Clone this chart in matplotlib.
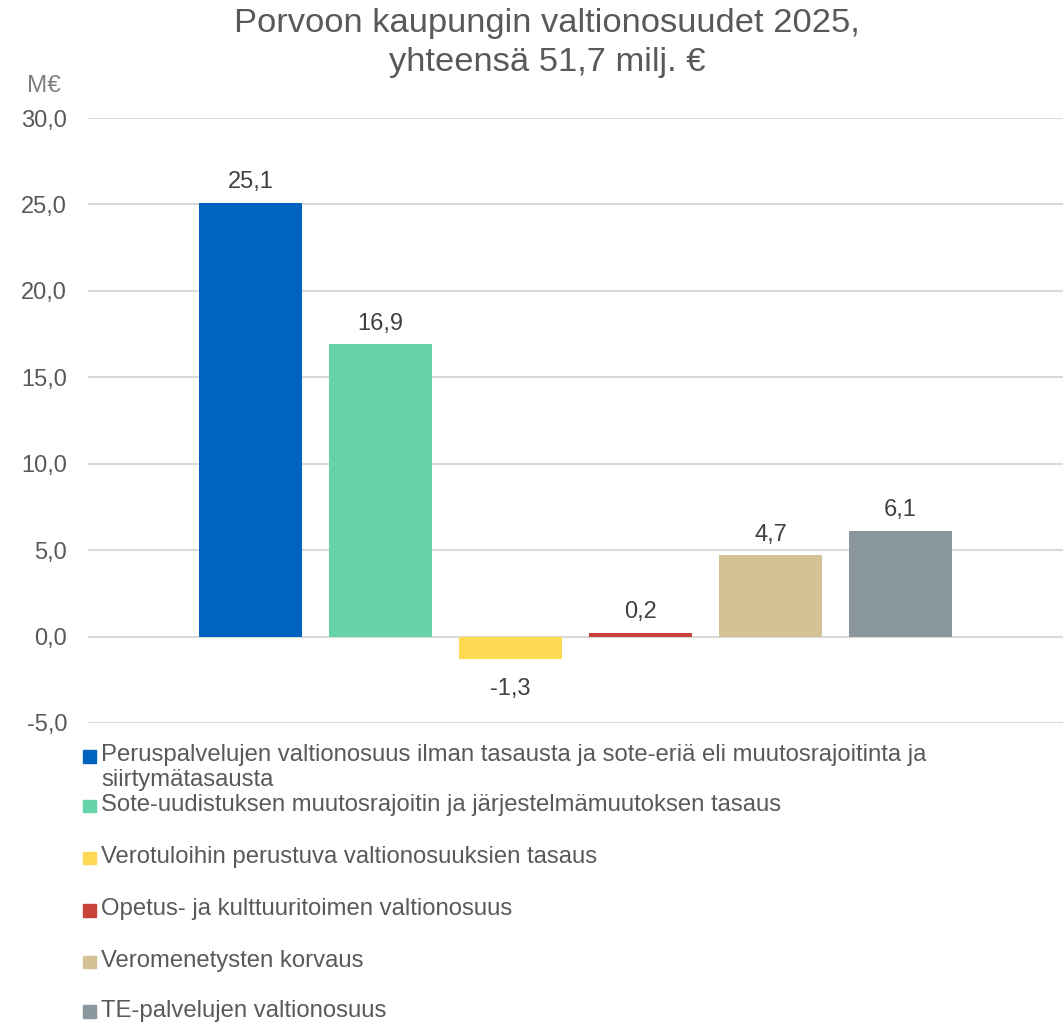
import matplotlib.pyplot as plt
from matplotlib.patches import Rectangle

plt.rcParams['font.family'] = ['Liberation Sans', 'DejaVu Sans']

# Data
sarjat = [
    "Peruspalvelujen valtionosuus ilman tasausta ja sote-eriä eli muutosrajoitinta ja\nsiirtymätasausta",
    "Sote-uudistuksen muutosrajoitin ja järjestelmämuutoksen tasaus",
    "Verotuloihin perustuva valtionosuuksien tasaus",
    "Opetus- ja kulttuuritoimen valtionosuus",
    "Veromenetysten korvaus",
    "TE-palvelujen valtionosuus",
]
arvot = [25.1, 16.9, -1.3, 0.2, 4.7, 6.1]
varit = ['#0064BE', '#66D4A8', '#FFD952', '#C8423A', '#D4C196', '#8B979F']
y_ticks = [-5, 0, 5, 10, 15, 20, 25, 30]

W, H = 1063, 1025
fig = plt.figure(figsize=(W / 100, H / 100), dpi=100)
ax = fig.add_axes([88 / W, 1 - 723 / H, 1 - 88 / W, (723 - 118) / H])

x = list(range(len(arvot)))
ax.bar(x, arvot, width=0.79, color=varit, zorder=3)

for xi, v in zip(x, arvot):
    txt = f"{v:.1f}".replace('.', ',')
    if v >= 0:
        ax.annotate(txt, (xi, v), xytext=(0, 7), textcoords='offset points',
                    ha='center', va='bottom', fontsize=17, color='#404040')
    else:
        ax.annotate(txt, (xi, v), xytext=(0, -14), textcoords='offset points',
                    ha='center', va='top', fontsize=17, color='#404040')

ax.set_xlim(-1.25, 6.25)
ax.set_ylim(-5, 30)
ax.set_yticks(y_ticks)
ax.set_yticklabels([f"{t:.1f}".replace('.', ',') for t in y_ticks])
ax.tick_params(axis='y', length=0, pad=15, labelsize=17, labelcolor='#595959')
ax.set_xticks([])
ax.grid(axis='y', color='#D9D9D9', linewidth=1.5, zorder=0)
for s in ax.spines.values():
    s.set_visible(False)

fig.text(547 / W, 1 - 43 / H, "Porvoon kaupungin valtionosuudet 2025,\nyhteensä 51,7 milj. €",
         ha='center', va='center', fontsize=24.8, color='#595959', linespacing=1.32)
fig.text(44 / W, 1 - 86 / H, "M€", ha='center', va='center', fontsize=17.5, color='#7F7F7F')

# Legend drawn by hand
rivit = [756.5, 806, 858, 910.5, 962, 1011.5]
for nimi, vari, yc in zip(sarjat, varit, rivit):
    fig.patches.append(Rectangle((83 / W, 1 - (yc + 6) / H), 12.5 / W, 12.5 / H,
                                 transform=fig.transFigure, color=vari))
    fig.text(101 / W, 1 - (yc - 12) / H, nimi, ha='left', va='top',
             fontsize=17.2, color='#595959', linespacing=1.12)

fig.savefig('out.png', dpi=100)
